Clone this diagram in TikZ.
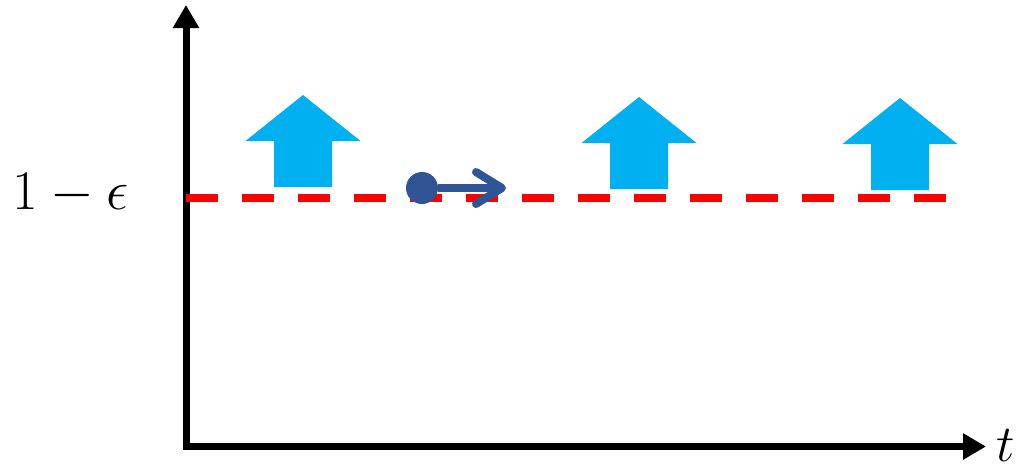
\documentclass[tikz,border=0pt]{standalone}
\usepackage{fix-cm}
\usepackage{tikz}
\usetikzlibrary{arrows.meta}

\definecolor{skyblue}{HTML}{00B0F0}
\definecolor{darkblue}{HTML}{2F5597}

\tikzset{
    upblock/.pic={
        \fill[skyblue] (-29,0) -- (-29,-46) -- (-57.5,-46) -- (0,-92) -- (57.5,-46)
            -- (29,-46) -- (29,0) -- cycle;
    },
}

\begin{document}
\begin{tikzpicture}[
    x=1pt, y=-1pt,
    axis/.style={line width=7pt, -{Triangle[length=23pt,width=25pt]}},
    lvl/.style={red, line width=7.5pt, dash pattern=on 32pt off 24pt},
    lbl/.style={font=\fontsize{56}{64}\selectfont, inner sep=0pt, anchor=base},
]
\useasboundingbox (0,0) rectangle (1021,467);

% axes
\coordinate (o) at (186,446.5);
\coordinate (ytop) at (186,5);
\coordinate (xend) at (986,446.5);
\draw[axis] ([yshift=-3.5pt]o) -- (ytop);
\draw[axis] ([xshift=-3.5pt]o) -- (xend);
\node[lbl, font=\fontsize{52}{60}\selectfont] (tlabel) at (1006,461) {$t$};

% threshold level
\coordinate (lvlL) at (186,198);
\coordinate (lvlR) at (946,198);
\draw[lvl] (lvlL) -- (lvlR);
\node[lbl] (eps) at (71,209) {$1-\epsilon$};

% moving state
\node[circle, fill=darkblue, minimum size=32pt, inner sep=0pt] (dot) at (422,188) {};
\coordinate (dotend) at (506,188);
\draw[darkblue, line width=8pt, -{Straight Barb[length=26pt,width=32pt,round]}] (dot) -- (dotend);

% push-up arrows
\pic at (303,187) {upblock};
\pic at (639,189) {upblock};
\pic at (900,190) {upblock};
\end{tikzpicture}
\end{document}
